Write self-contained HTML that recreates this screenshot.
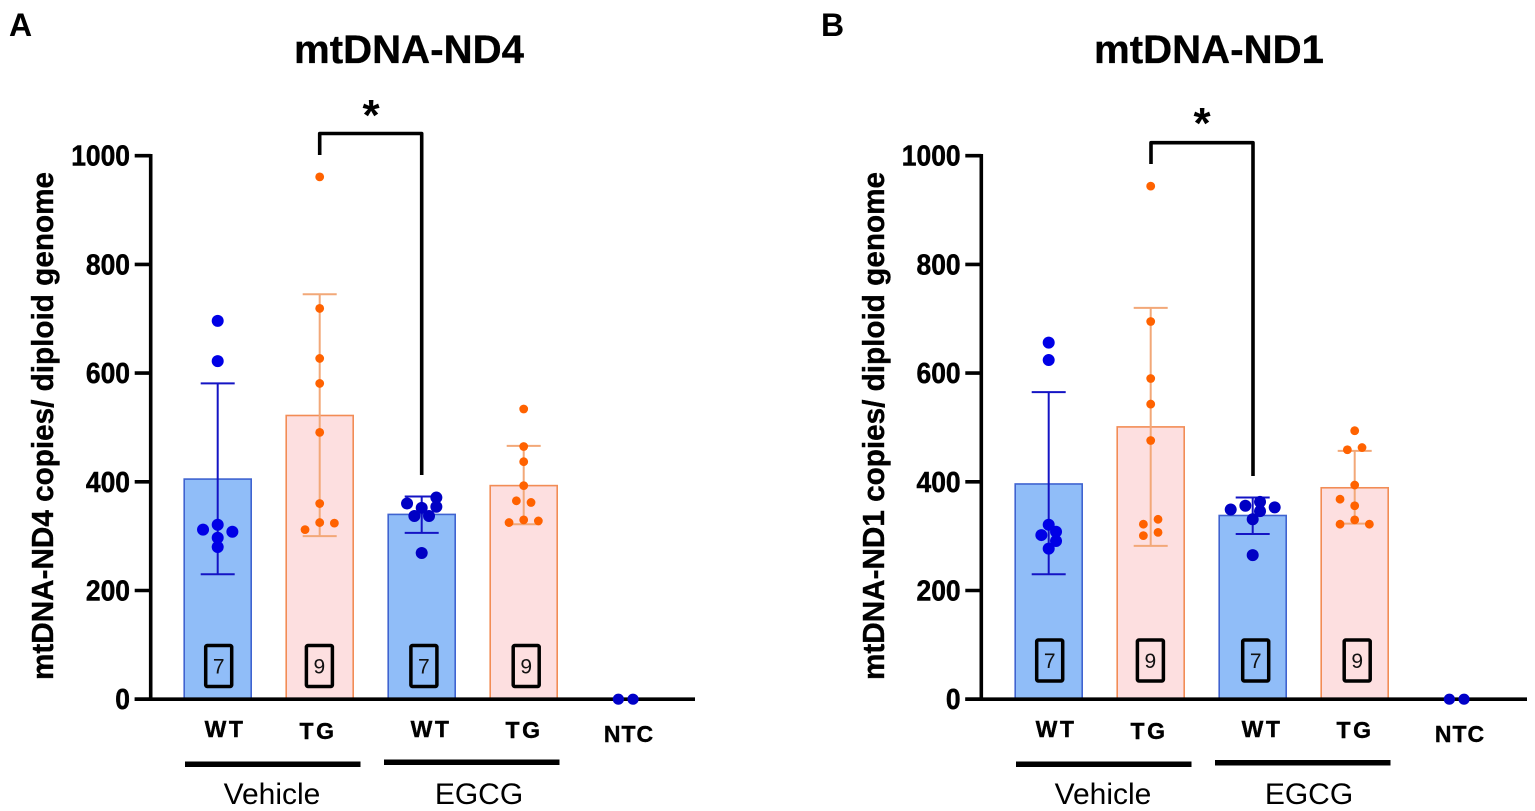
<!DOCTYPE html>
<html lang="en">
<head>
<meta charset="utf-8">
<title>mtDNA-ND4 and mtDNA-ND1 copies per diploid genome</title>
<style>
html,body{margin:0;padding:0;background:#fff;}
svg{display:block;font-family:"Liberation Sans",Arial,sans-serif;}
.panel-letter{font-size:32px;font-weight:700;fill:#000;}
.title{font-size:40px;font-weight:700;fill:#000;text-anchor:middle;stroke:#000;stroke-width:.3px;}
.ytitle{font-size:31px;font-weight:700;fill:#000;text-anchor:middle;stroke:#000;stroke-width:.4px;}
.cat{font-size:23px;font-weight:700;fill:#000;text-anchor:middle;letter-spacing:2.5px;stroke:#000;stroke-width:.4px;}
.cat-ntc{font-size:23px;letter-spacing:1px;}
.group{font-size:30px;fill:#000;text-anchor:middle;}
.count{font-size:21px;fill:#111;text-anchor:middle;}
.star{font-size:44px;font-weight:700;fill:#000;text-anchor:middle;}
.tick-label{stroke:#000;stroke-width:.5px;}
</style>
</head>
<body>
<svg id="figure" width="1535" height="811" viewBox="0 0 1535 811" xmlns="http://www.w3.org/2000/svg">
  <rect width="1535" height="811" fill="#fff"/>

  <g id="panel-a"></g>
  <g id="panel-b"></g>

  <!-- Panel A annotations -->
  <text class="panel-letter" x="9" y="36">A</text>
  <text class="title" x="409" y="63" textLength="230" lengthAdjust="spacingAndGlyphs">mtDNA-ND4</text>
  <text class="ytitle" transform="translate(53,426) rotate(-90)" textLength="508" lengthAdjust="spacingAndGlyphs">mtDNA-ND4 copies/ diploid genome</text>
  <path d="M319.7 155V133.500H421.7V475" fill="none" stroke="#000" stroke-width="3.6" stroke-linejoin="round"/>
  <text class="star" x="371" y="130">*</text>
  <text class="cat" x="225" y="737">WT</text>
  <text class="cat" x="318" y="739">TG</text>
  <text class="cat" x="431" y="737">WT</text>
  <text class="cat" x="524" y="738">TG</text>
  <text class="cat cat-ntc" x="629" y="742">NTC</text>
  <rect x="185" y="761.5" width="175.500" height="5.500" fill="#000"/>
  <rect x="384" y="759.500" width="175.500" height="5.500" fill="#000"/>
  <text class="group" x="272" y="804">Vehicle</text>
  <text class="group" x="479" y="804">EGCG</text>

  <!-- Panel B annotations -->
  <text class="panel-letter" x="821" y="36">B</text>
  <text class="title" x="1209" y="63" textLength="230" lengthAdjust="spacingAndGlyphs">mtDNA-ND1</text>
  <text class="ytitle" transform="translate(884,426) rotate(-90)" textLength="508" lengthAdjust="spacingAndGlyphs">mtDNA-ND1 copies/ diploid genome</text>
  <path d="M1151 164V142.700H1253V476" fill="none" stroke="#000" stroke-width="3.6" stroke-linejoin="round"/>
  <text class="star" x="1202" y="138">*</text>
  <text class="cat" x="1056" y="737">WT</text>
  <text class="cat" x="1149" y="739">TG</text>
  <text class="cat" x="1262" y="737">WT</text>
  <text class="cat" x="1355" y="738">TG</text>
  <text class="cat cat-ntc" x="1460" y="742">NTC</text>
  <rect x="1016" y="761.5" width="175.500" height="5.500" fill="#000"/>
  <rect x="1215" y="760" width="175.500" height="5.500" fill="#000"/>
  <text class="group" x="1103" y="804">Vehicle</text>
  <text class="group" x="1309" y="804">EGCG</text>
</svg>

<script>
// ---- Chart data ----
const groupCountsA = [7, 9, 7, 9];
const groupCountsB = [7, 9, 7, 9];
const yTicks = [0, 200, 400, 600, 800, 1000];

const meansA = [405, 522, 340, 393];
const upperA = [581, 745, 373, 466];
const lowerA = [230, 300, 306, 322];
const pointsA = [
  [696, 622, 321, 312, 308, 297, 280],
  [961, 719, 627, 581, 491, 360, 325, 324, 312],
  [371, 360, 354, 352, 337, 337, 269],
  [534, 465, 437, 393, 365, 362, 330, 325, 328]
];
const swarmA = [
  [0, 0, 0, -2, 2, 0, 0],
  [0, 0, 0, 0, 0, 0, 0, 2, -2],
  [2, -2, 2, 0, -1, 1, 0],
  [0, 0, 0, 0, -1, 1, 0, -2, 2]
];

const meansB = [396, 501, 338, 389];
const upperB = [565, 720, 371, 457];
const lowerB = [230, 282, 304, 323];
const pointsB = [
  [656, 624, 321, 308, 302, 291, 277],
  [944, 695, 590, 543, 476, 331, 322, 307, 301],
  [363, 356, 353, 346, 349, 331, 265],
  [494, 459, 463, 394, 368, 356, 330, 322, 322]
];
const swarmB = [
  [0, 0, 0, 1, -1, 1, 0],
  [0, 0, 0, 0, 0, 1, -1, 1, -1],
  [1, -1, 3, 1, -3, 0, 0],
  [0, -1, 1, 0, -2, 0, 0, -2, 2]
];

const ntcValues = [0, 0];
const ntcSwarm = [-1, 1];

// ---- Axis functions ----
const SVG_NS = 'http://www.w3.org/2000/svg';
const Y_ZERO = 699.2;
const Y_PER_UNIT = 0.5435;
const X_STEP = 102;
const SWARM_STEP = 7.33;
const BAR_WIDTH = 67;
const CAP_HALF = 17;

function yScale(v) { return Y_ZERO - v * Y_PER_UNIT; }
function xScale(firstCentre, i) { return firstCentre + X_STEP * i; }

function make(parent, tag, attrs) {
  const el = document.createElementNS(SVG_NS, tag);
  for (const k in attrs) el.setAttribute(k, attrs[k]);
  parent.appendChild(el);
  return el;
}

function drawPanel(root, cfg) {
  const prefix = cfg.prefix;

  // Bars
  cfg.means.forEach(function (m, i) {
    const cx = xScale(cfg.first, i);
    const blue = i % 2 === 0;
    const bar = make(root, 'rect', {
      x: cx - BAR_WIDTH / 2, y: yScale(m), width: BAR_WIDTH, height: Y_ZERO - yScale(m),
      fill: blue ? '#90bdf8' : '#fddfe0',
      stroke: blue ? '#3f63d0' : '#f28c55',
      'stroke-width': 1.6
    });
    
    
  });

  // Sample-count boxes
  cfg.counts.forEach(function (n, i) {
    const cx = xScale(cfg.first, i) + cfg.boxShift[i];
    const box = make(root, 'rect', {
      x: cx - 13, y: cfg.boxTop, width: 26, height: 41, rx: 1.5,
      fill: 'none', stroke: '#000', 'stroke-width': 3.5
    });
    
    
    const txt = make(root, 'text', { x: cx, y: cfg.boxTop + 28, class: 'count' });
    txt.textContent = String(n);
    
    
  });

  // Error bars
  cfg.means.forEach(function (m, i) {
    const cx = xScale(cfg.first, i);
    const blue = i % 2 === 0;
    const colour = blue ? '#1414c4' : '#f2a878';
    const top = yScale(cfg.upper[i]);
    const bottom = yScale(cfg.lower[i]);
    const err = make(root, 'path', {
      d: 'M' + (cx - CAP_HALF) + ' ' + top + 'H' + (cx + CAP_HALF) +
         'M' + cx + ' ' + top + 'V' + bottom +
         'M' + (cx - CAP_HALF) + ' ' + bottom + 'H' + (cx + CAP_HALF),
      fill: 'none', stroke: colour, 'stroke-width': 2
    });
    
    
  });

  // Individual points
  cfg.points.forEach(function (series, i) {
    const cx = xScale(cfg.first, i);
    const blue = i % 2 === 0;
    series.forEach(function (v, j) {
      const dot = make(root, 'circle', {
        cx: cx + cfg.swarm[i][j] * SWARM_STEP, cy: yScale(v),
        r: blue ? 6 : 4.4,
        fill: blue ? (i === 0 ? '#0000e6' : '#0000c4') : '#ff6200'
      });
      
      
    });
  });

  // Axes
  const yAxis = make(root, 'line', {
    x1: cfg.axisX, x2: cfg.axisX, y1: yScale(1000) - 1.7, y2: Y_ZERO + 1.7,
    stroke: '#000', 'stroke-width': 3.6
  });
  
  

  const xAxis = make(root, 'line', {
    x1: cfg.axisX - 16, x2: cfg.axisEnd, y1: Y_ZERO, y2: Y_ZERO,
    stroke: '#000', 'stroke-width': 3.6
  });
  
  

  yTicks.forEach(function (t) {
    const y = yScale(t);
    const tick = make(root, 'line', {
      x1: cfg.axisX - 16, x2: cfg.axisX, y1: y, y2: y,
      stroke: '#000', 'stroke-width': 3.6
    });
    
    
    const label = String(t);
    const txt = make(root, 'text', {
      x: cfg.axisX - 20.7, y: y + 10, class: 'tick-label',
      'text-anchor': 'end', 'font-size': 28.5, 'font-weight': 700, fill: '#000',
      textLength: label.length * 14.7, lengthAdjust: 'spacingAndGlyphs'
    });
    txt.textContent = label;
    
    
  });

  // NTC points sit on the axis
  ntcValues.forEach(function (v, j) {
    const dot = make(root, 'circle', {
      cx: xScale(cfg.first, 4) + ntcSwarm[j] * SWARM_STEP, cy: yScale(v), r: 5.6, fill: '#0000c8'
    });
    
    
  });
}

drawPanel(document.getElementById('panel-a'), {
  prefix: 'panel-a', first: 217.7, axisX: 150.7, axisEnd: 695, boxTop: 645.5,
  boxShift: [1, -0.3, 2.2, 2.5],
  counts: groupCountsA, means: meansA, upper: upperA, lower: lowerA, points: pointsA, swarm: swarmA
});
drawPanel(document.getElementById('panel-b'), {
  prefix: 'panel-b', first: 1048.7, axisX: 981.3, axisEnd: 1527, boxTop: 640,
  boxShift: [1, -0.3, 3, 2.5],
  counts: groupCountsB, means: meansB, upper: upperB, lower: lowerB, points: pointsB, swarm: swarmB
});
</script>
</body>
</html>
